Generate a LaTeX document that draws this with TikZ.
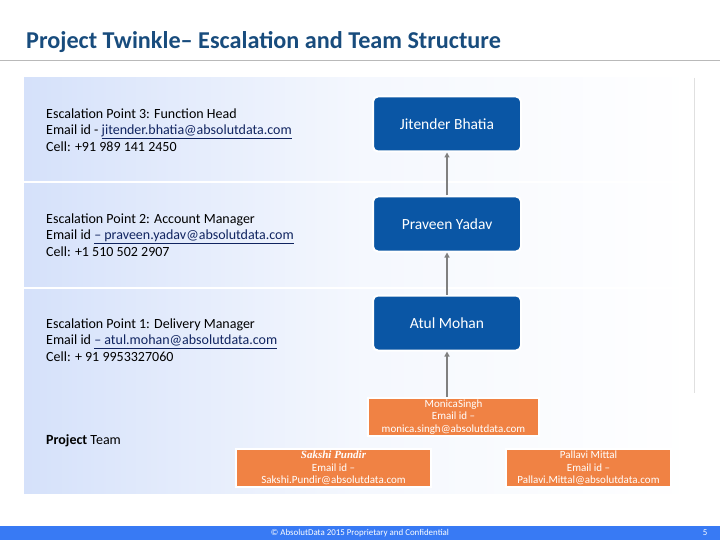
\documentclass[tikz,border=0pt]{standalone}
\usepackage{fontspec}
\setmainfont{Carlito}
\newfontfamily\nameserif{Liberation Serif}
\usetikzlibrary{positioning,calc}
\usetikzlibrary{arrows.meta}
\definecolor{TitleBlue}{RGB}{24,76,125}
\definecolor{BoxBlue}{RGB}{10,86,165}
\definecolor{LinkBlue}{RGB}{16,36,96}
\definecolor{TeamOrange}{RGB}{240,130,68}
\definecolor{PanelBlue}{RGB}{213,225,250}
\definecolor{BarBlue}{RGB}{56,122,244}
\definecolor{RuleGray}{RGB}{185,185,185}
\tikzset{
  level/.style={draw=white,line width=2pt,fill=BoxBlue,rounded corners=5pt,
    minimum width=148pt,minimum height=55pt,text=white,font=\fontsize{15.5}{18}\selectfont},
  member/.style={draw=white,line width=2pt,fill=TeamOrange,align=center,
    minimum height=38pt,inner sep=0pt,text=white,
    font=\fontsize{11}{12.5}\selectfont},
  info/.style={anchor=west,align=left,inner sep=0pt,font=\fontsize{14}{16.5}\selectfont},
  link/.style={draw=black!50,line width=1.6pt,-{Triangle[length=5pt,width=5pt]}},
}
\newcommand{\mail}[1]{\textcolor{LinkBlue}{\underline{#1}}}

\begin{document}
\begin{tikzpicture}[x=1pt,y=-1pt]
\useasboundingbox (0,0) rectangle (720,540);
% header
\node[anchor=west,inner sep=0pt,text=TitleBlue,font=\bfseries\fontsize{24.2}{27}\selectfont] (title) at (26,42)
  {Project Twinkle– Escalation and Team Structure};
\draw[RuleGray,line width=1pt] (0,61) -- (720,61);
% panel
\shade[left color=PanelBlue,right color=white,middle color=PanelBlue!25] (24,78) rectangle (694,493);
\draw[white,line width=1.2pt] (24,182) -- (694,182);
\draw[white,line width=1.2pt] (24,288) -- (694,288);
\draw[black!12,line width=0.8pt] (694,78) -- (694,393);
% escalation texts
\node[info] (esc3) at (46,130) {Escalation Point 3: Function Head\\
  Email id - \mail{jitender.bhatia@absolutdata.com}\\ Cell: +91 989 141 2450};
\node[info] (esc2) at (46,235) {Escalation Point 2: Account Manager\\
  Email id \mail{– praveen.yadav@absolutdata.com}\\ Cell: +1 510 502 2907};
\node[info] (esc1) at (46,340) {Escalation Point 1: Delivery Manager\\
  Email id \mail{– atul.mohan@absolutdata.com}\\ Cell: + 91 9953327060};
\node[info] (team) at (46,441) {\textbf{Project} Team};
% escalation boxes
\node[level] (jitender) at (447,124) {Jitender Bhatia};
\node[level] (praveen) at (447,224) {Praveen Yadav};
\node[level] (atul) at (447,323) {Atul Mohan};
% team boxes
\node[member,minimum width=171pt] (monica) at (453.5,417)
  {MonicaSingh\\ Email id –\\ monica.singh@absolutdata.com};
\node[member,minimum width=195pt] (sakshi) at (333.5,468)
  {{\nameserif\itshape\bfseries Sakshi Pundir}\\ Email id –\\ Sakshi.Pundir@absolutdata.com};
\node[member,minimum width=165pt] (pallavi) at (588.5,468)
  {Pallavi Mittal\\ Email id –\\ Pallavi.Mittal@absolutdata.com};
% arrows
\draw[link] (praveen) -- (jitender);
\draw[link] (atul) -- (praveen);
\draw[link] (atul.south |- monica.north) -- (atul.south);
% footer
\fill[BarBlue] (0,526) rectangle (720,540);
\node[text=white,font=\fontsize{8.9}{10}\selectfont] (copy) at (360,533.5)
  {© AbsolutData 2015 Proprietary and Confidential};
\node[text=white,font=\fontsize{8.9}{10}\selectfont] (page) at (705,533) {5};
\end{tikzpicture}
\end{document}
